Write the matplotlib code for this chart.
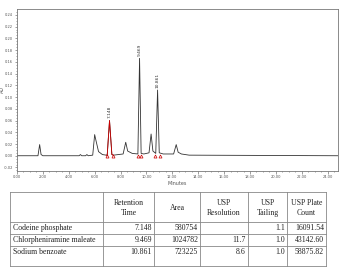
import numpy as np
import matplotlib
matplotlib.use("Agg")
from matplotlib import pyplot as plt

# chromatogram trace (minutes, AU)
time = [0.0, 1.62, 1.75, 1.86, 2.0, 4.8, 4.9, 5.0, 5.3, 5.4, 5.5,
        5.85, 6.0, 6.1, 6.3, 6.6, 6.9, 6.97, 7.148, 7.33, 7.45, 8.2,
        8.4, 8.55, 8.9, 9.34, 9.469, 9.59, 9.8, 10.2, 10.36, 10.5,
        10.72, 10.861, 10.99, 11.3, 12.1, 12.3, 12.45, 12.7, 13.3, 24.8]
signal = [0.0, 0.0, 0.019, 0.002, 0.0, 0.0, 0.002, 0.0, 0.0, 0.002, 0.0,
          0.001, 0.036, 0.026, 0.007, 0.002, 0.001, 0.001, 0.060, 0.002, 0.001, 0.003,
          0.023, 0.008, 0.004, 0.003, 0.166, 0.004, 0.003, 0.005, 0.037, 0.008,
          0.004, 0.112, 0.005, 0.003, 0.003, 0.019, 0.006, 0.003, 0.001, 0.0]

# integrated peaks
peak_rt = [7.148, 9.469, 10.861]
peak_top = [0.060, 0.166, 0.112]
peak_start = [6.95, 9.33, 10.68]
peak_end = [7.42, 9.59, 11.03]

# results table
compounds = ["Codeine phosphate", "Chlorpheniramine maleate", "Sodium benzoate"]
headers = ["Retention\nTime", "Area", "USP\nResolution", "USP\nTailing", "USP Plate\nCount"]
ret_time = ["7.148", "9.469", "10.861"]
area = ["580754", "1024782", "723225"]
resolution = ["", "11.7", "8.6"]
tailing = ["1.1", "1.0", "1.0"]
plate_count = ["16091.54", "43142.60", "58875.82"]

fig = plt.figure(figsize=(3.42, 2.70), dpi=100)
W, H = 342.0, 270.0

ax = fig.add_axes([17 / W, 1 - 171 / H, 321 / W, 162 / H])
t = np.array(time)
s = np.array(signal)
ax.plot(t, s, color="#333333", lw=0.6)

# red segment for the first integrated peak
m = (t >= peak_start[0] - 0.05) & (t <= peak_end[0] + 0.05)
ax.plot(t[m], s[m], color="#cc0000", lw=0.6)

for rt, top in zip(peak_rt, peak_top):
    ax.text(rt, top + 0.004, "%.3f" % rt, rotation=90, ha="center", va="bottom",
            fontsize=3.2, color="#333333")
ax.plot(peak_start + peak_end, [0.0] * 6, linestyle="none", marker="^",
        ms=2.2, mfc="none", mec="#cc0000", mew=0.5)

ax.set_xlim(0, 24.8)
ax.set_ylim(-0.026, 0.25)
ax.set_xticks(np.arange(0, 25, 2))
ax.set_xticks(np.arange(0, 24.8, 0.5), minor=True)
ax.set_yticks(np.arange(-0.02, 0.25, 0.02))
ax.set_yticks(np.arange(-0.025, 0.25, 0.005), minor=True)
ax.xaxis.set_major_formatter(matplotlib.ticker.FormatStrFormatter("%.2f"))
ax.yaxis.set_major_formatter(matplotlib.ticker.FormatStrFormatter("%.2f"))
ax.tick_params(which="both", labelsize=2.6, colors="#555555", width=0.4, pad=1.2)
ax.tick_params(which="major", length=1.8)
ax.tick_params(which="minor", length=1)
for sp in ax.spines.values():
    sp.set_color("#777777")
    sp.set_linewidth(0.6)
ax.set_xlabel("Minutes", fontsize=3.5, color="#555555", labelpad=1)
ax.set_ylabel("AU", fontsize=3.5, color="#555555")
ax.yaxis.set_label_coords(-12 / 321, 0.5)

# table drawn in pixel coordinates
tb = fig.add_axes([0, 0, 1, 1])
tb.set_xlim(0, W)
tb.set_ylim(H, 0)
tb.axis("off")

col_x = [10, 103, 154, 200, 248, 287, 326]
row_y = [192, 222, 234, 246, 266]
lc = "#888888"
for x in col_x:
    tb.plot([x, x], [row_y[0], row_y[-1]], color=lc, lw=0.6)
for y in row_y:
    tb.plot([col_x[0], col_x[-1]], [y, y], color=lc, lw=0.6)

font = dict(family="Liberation Serif", fontsize=5.6, color="#222222")
for j, h in enumerate(headers):
    tb.text((col_x[j + 1] + col_x[j + 2]) / 2, 208, h, ha="center", va="center",
            linespacing=1.3, **font)

columns = [ret_time, area, resolution, tailing, plate_count]
row_text_y = [228, 240, 252]
for i, name in enumerate(compounds):
    tb.text(col_x[0] + 3, row_text_y[i], name, ha="left", va="center", **font)
    for j, col in enumerate(columns):
        tb.text(col_x[j + 2] - 2, row_text_y[i], col[i], ha="right", va="center", **font)

fig.savefig("out.png", dpi=100)
